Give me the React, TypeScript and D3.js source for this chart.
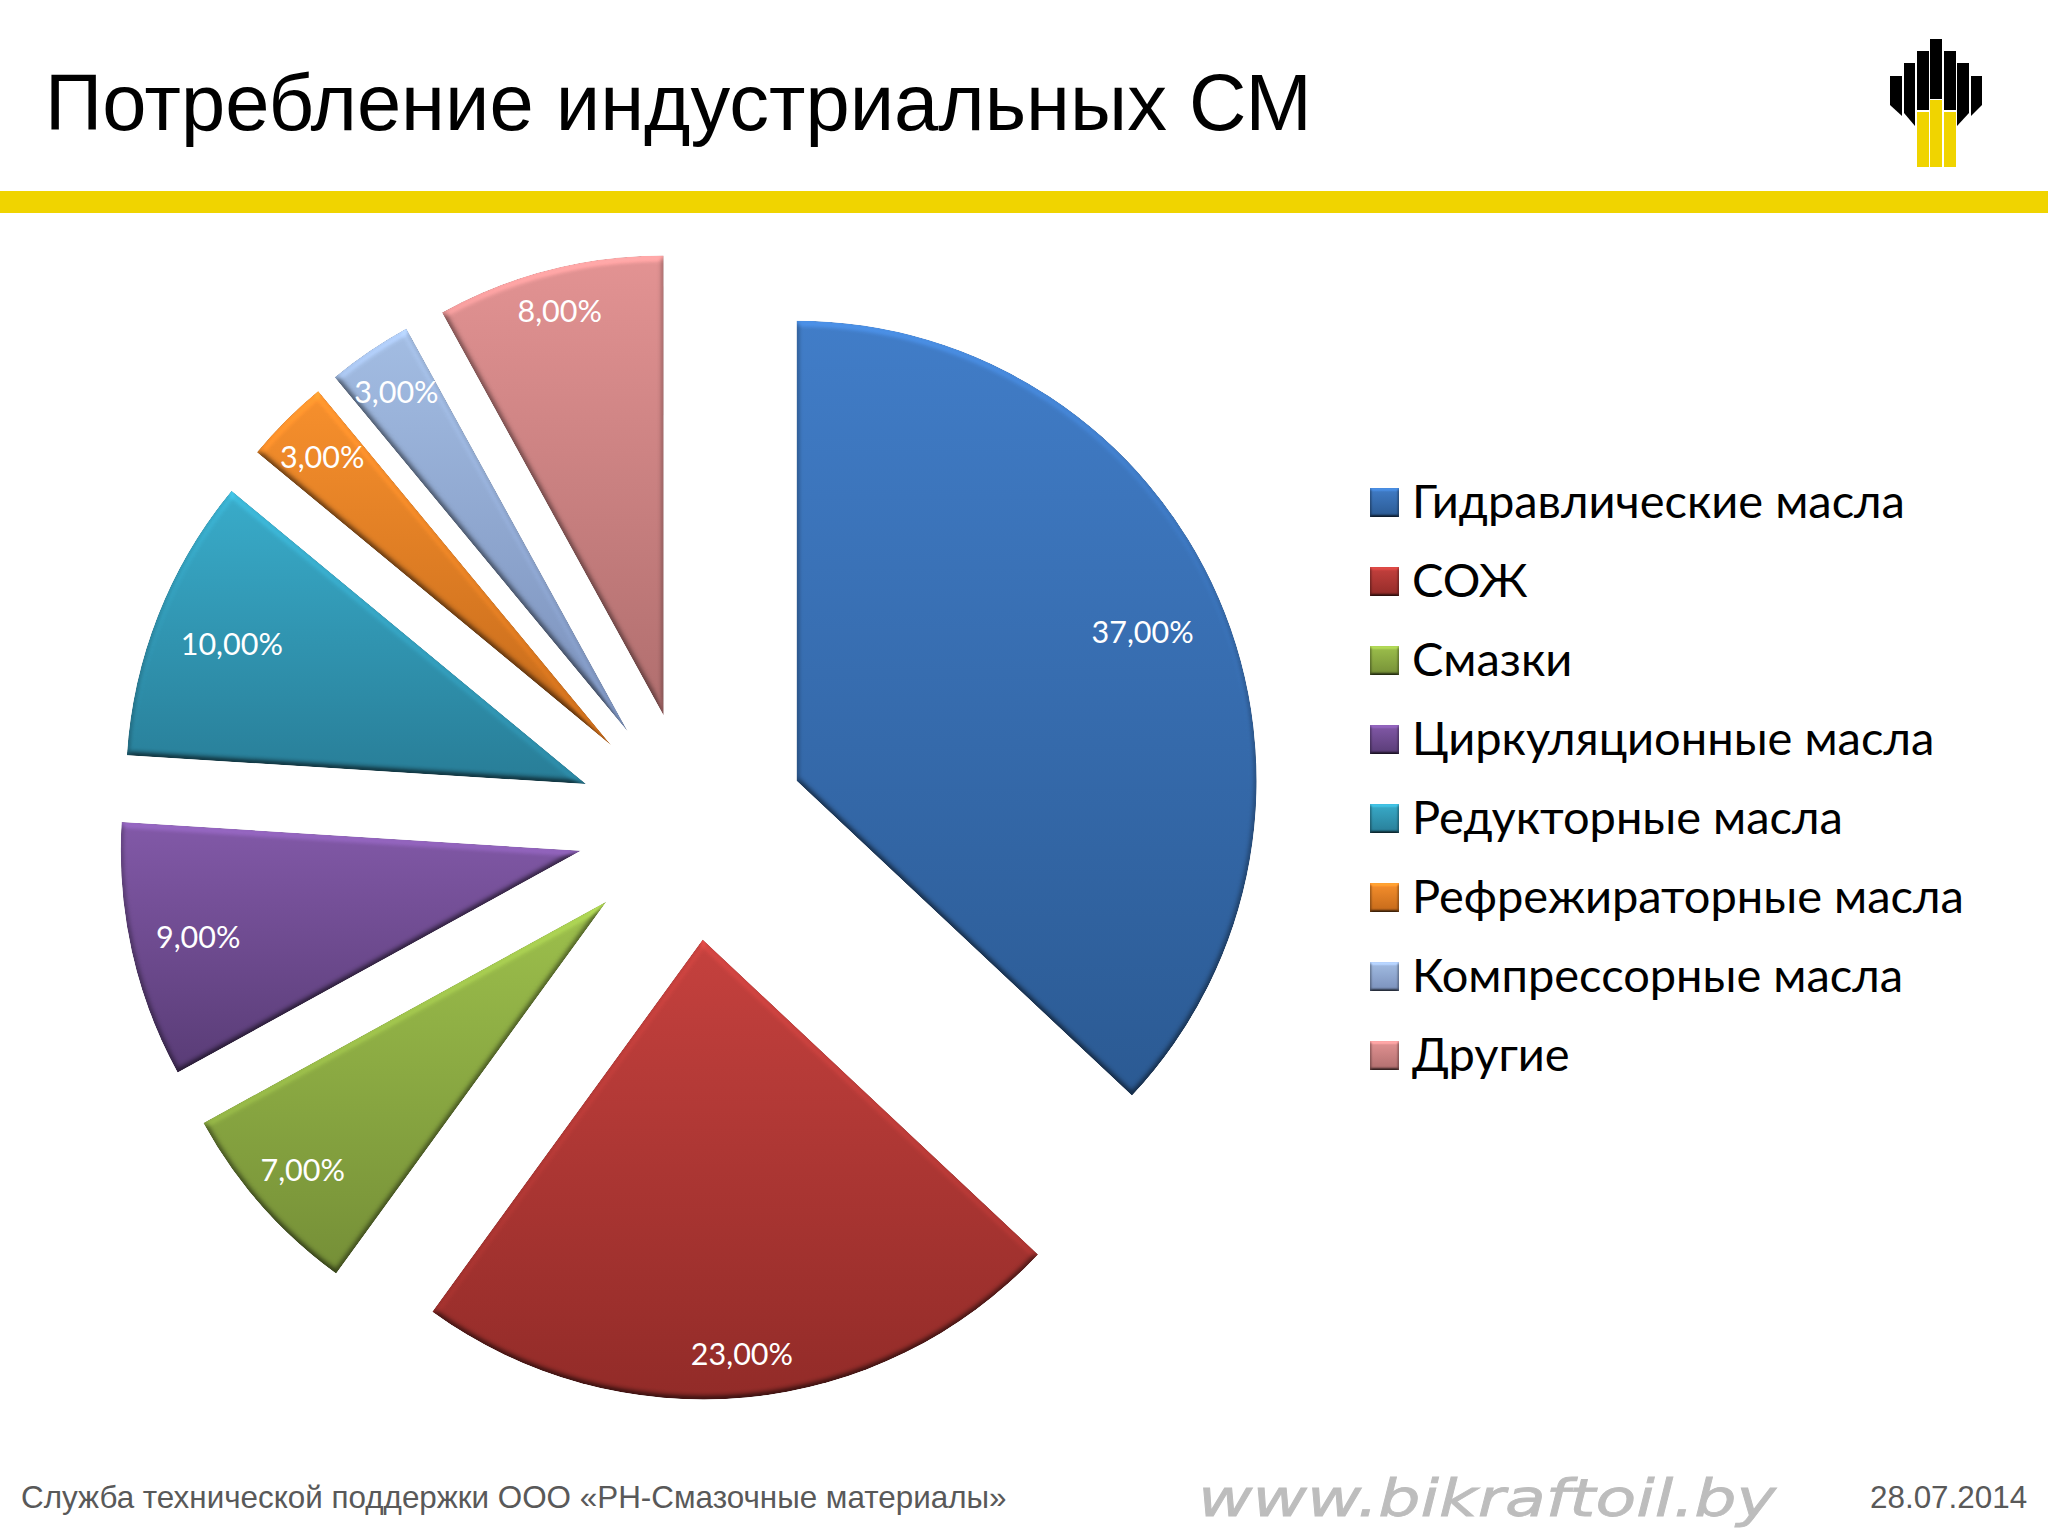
import * as d3 from "d3";

const categories = [
  "Гидравлические масла",
  "СОЖ",
  "Смазки",
  "Циркуляционные масла",
  "Редукторные масла",
  "Рефрежираторные масла",
  "Компрессорные масла",
  "Другие",
];
const shares = [37, 23, 7, 9, 10, 3, 3, 8];
const topColors = ["#417dc8", "#c5413e", "#9dc04c", "#8259a8", "#39acca", "#f7902d", "#a3bde3", "#e39393"];
const bottomColors = ["#2b5a93", "#922b28", "#758f37", "#593c76", "#287d97", "#c4691a", "#7a90bb", "#b06e6e"];
const labelRadii = [377, 416, 405, 392, 381, 409, 412, 418];

const W = 2048, H = 1536;
const CX = 692, CY = 826, R = 460, EXPLODE = 114;
const LEGEND_X = 1370, LEGEND_Y = 488, LEGEND_STEP = 79;

const logoBlack = [
  "M1890,76H1902V105L1902,116L1890,105Z",
  "M1904,63H1915V126L1904,113Z",
  "M1917,51H1929V110H1917Z",
  "M1930,39H1942V99H1930Z",
  "M1944,51H1956V110H1944Z",
  "M1957,63H1969V113L1957,126Z",
  "M1971,76H1982V105L1971,116Z",
];
const logoYellow = [
  "M1917,112H1929V167H1917Z",
  "M1930,100H1942V167H1930Z",
  "M1944,112H1956V167H1944Z",
];

const pie = d3.pie<number>().sort(null).value(d => d);
const arcs = pie(shares);
const sliceArc = d3.arc<d3.PieArcDatum<number>>().innerRadius(0).outerRadius(R);

function Defs() {
  return (
    <defs>
      {categories.map((_, i) => (
        <linearGradient key={i} id={`grad-${i}`} x1="0" x2="0" y1="0" y2="1">
          <stop offset="0%" stopColor={topColors[i]} />
          <stop offset="100%" stopColor={bottomColors[i]} />
        </linearGradient>
      ))}
      <filter id="bevel" x="-3%" y="-3%" width="106%" height="106%" colorInterpolationFilters="sRGB">
        <feGaussianBlur in="SourceAlpha" stdDeviation="3" result="blur" />
        <feDiffuseLighting in="blur" surfaceScale="3.2" diffuseConstant="1" lightingColor="#fff" result="light">
          <feDistantLight azimuth={270} elevation={60} />
        </feDiffuseLighting>
        <feComposite in="light" in2="SourceGraphic" operator="arithmetic" k1="1.155" k2="0" k3="0" k4="0" result="lit" />
        <feComposite in="lit" in2="SourceAlpha" operator="in" />
      </filter>
      <filter id="bevel-small" x="-10%" y="-10%" width="120%" height="120%" colorInterpolationFilters="sRGB">
        <feGaussianBlur in="SourceAlpha" stdDeviation="1.5" result="blur" />
        <feDiffuseLighting in="blur" surfaceScale="2" diffuseConstant="1" lightingColor="#fff" result="light">
          <feDistantLight azimuth={270} elevation={60} />
        </feDiffuseLighting>
        <feComposite in="light" in2="SourceGraphic" operator="arithmetic" k1="1.155" k2="0" k3="0" k4="0" result="lit" />
        <feComposite in="lit" in2="SourceAlpha" operator="in" />
      </filter>
    </defs>
  );
}

export default function App() {
  return (
    <svg width={W} height={H} viewBox={`0 0 ${W} ${H}`}
      style={{ position: "absolute", left: 0, top: 0, background: "#fff" }}>
      <Defs />

      <text x={45} y={130} fontFamily="'Liberation Sans', Arial, sans-serif" fontSize={79.5} fill="#000">
        Потребление индустриальных СМ
      </text>
      <rect x={0} y={191} width={W} height={22} fill="#f0d400" />
      {logoBlack.map((d, i) => <path key={i} d={d} fill="#000" />)}
      {logoYellow.map((d, i) => <path key={i} d={d} fill="#f0d400" />)}

      <g transform={`translate(${CX},${CY})`}>
        {arcs.map((a, i) => {
          const mid = (a.startAngle + a.endAngle) / 2;
          const dx = Math.sin(mid) * EXPLODE, dy = -Math.cos(mid) * EXPLODE;
          const [lx, ly] = d3.arc<d3.PieArcDatum<number>>()
            .innerRadius(labelRadii[i]).outerRadius(labelRadii[i]).centroid(a);
          return (
            <g key={categories[i]} transform={`translate(${dx},${dy})`}>
              <path d={sliceArc(a) ?? ""} fill={`url(#grad-${i})`} filter="url(#bevel)" />
              <text x={lx} y={ly + 1} dy="0.35em" textAnchor="middle" fontFamily="Lato, sans-serif"
                fontSize={30.5} fill="#fff">
                {`${shares[i]},00%`}
              </text>
            </g>
          );
        })}
      </g>

      {categories.map((c, i) => (
        <g key={c} transform={`translate(${LEGEND_X},${LEGEND_Y + i * LEGEND_STEP})`}>
          <rect width={29} height={29} fill={`url(#grad-${i})`} filter="url(#bevel-small)" />
          <text x={42} y={13.5} dy="0.36em" fontFamily="Lato, sans-serif" fontSize={47} fill="#000">{c}</text>
        </g>
      ))}

      <text x={21} y={1508} fontFamily="'Liberation Sans', Arial, sans-serif" fontSize={31.4} fill="#595959">
        Служба технической поддержки ООО «РН-Смазочные материалы»
      </text>
      <text x={1198} y={1516} fontFamily="'DejaVu Sans', sans-serif" fontStyle="italic" fontSize={52}
        fill="#bdbdbd" stroke="#bdbdbd" strokeWidth={0.8} textLength={578} lengthAdjust="spacingAndGlyphs">
        www.bikraftoil.by
      </text>
      <text x={1870} y={1508} fontFamily="'Liberation Sans', Arial, sans-serif" fontSize={31.4} fill="#595959">
        28.07.2014
      </text>
    </svg>
  );
}
